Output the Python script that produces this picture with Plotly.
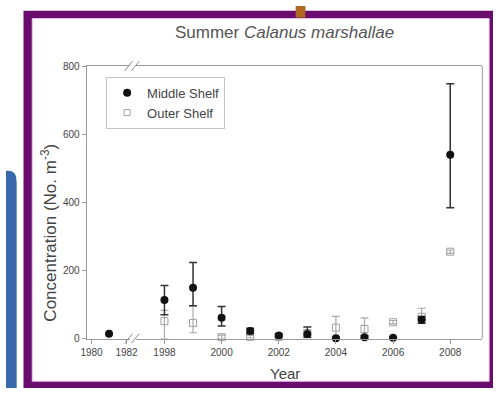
import plotly.graph_objects as go

W, H = 501, 394

# ---------------- data ----------------
early_years = [1981]
early_middle = [14]

years = [1998, 1999, 2000, 2001, 2002, 2003, 2004, 2005, 2006, 2007, 2008]
middle = [113, 149, 61, 22, 9, 13, 1, 4, 2, 55, 540]
middle_plus = [43, 74, 33, 8, 4, 21, 3, 4, 2, 10, 208]
middle_minus = [43, 53, 24, 8, 4, 10, 1, 4, 2, 10, 156]

outer = [51, 46, 4, 5, 5, 16, 32, 28, 48, 64, 255]
outer_plus = [32, 50, 6, 4, 3, 10, 33, 33, 5, 25, 5]
outer_minus = [51, 29, 4, 4, 3, 8, 32, 28, 5, 10, 5]

early_ticks = [1980, 1982]
early_ticklabels = ["1980", "1982"]
late_ticks = [1998, 2000, 2002, 2004, 2006, 2008]
late_ticklabels = ["1998", "2000", "2002", "2004", "2006", "2008"]
y_ticks = [0, 200, 400, 600, 800]
y_ticklabels = ["0", "200", "400", "600", "800"]


def px(x):
    return x / W


def py(y):
    return 1 - y / H


FONT = "Liberation Sans, Arial, sans-serif"
AX = "#9a9a9a"
TXT = "#444444"

fig = go.Figure()

fig.add_trace(go.Scatter(
    x=early_years, y=early_middle, xaxis="x", yaxis="y", mode="markers",
    name="Middle Shelf", legendgroup="m", showlegend=False, cliponaxis=False,
    marker=dict(symbol="circle", size=8, color="#111111"),
))

fig.add_trace(go.Scatter(
    x=years, y=outer, xaxis="x2", yaxis="y", mode="markers",
    name="Outer Shelf", legendgroup="o", showlegend=False, cliponaxis=False,
    marker=dict(symbol="square-open", size=7, color="#a0a0a0", line=dict(width=1)),
    error_y=dict(type="data", symmetric=False, array=outer_plus,
                 arrayminus=outer_minus, color="#aaaaaa", thickness=1.2, width=4),
))

fig.add_trace(go.Scatter(
    x=years, y=middle, xaxis="x2", yaxis="y", mode="markers",
    name="Middle Shelf", legendgroup="m", showlegend=True, cliponaxis=False,
    marker=dict(symbol="circle", size=8, color="#111111"),
    error_y=dict(type="data", symmetric=False, array=middle_plus,
                 arrayminus=middle_minus, color="#333333", thickness=1.5, width=4),
))

# legend entry for outer shelf (ordered after middle)
fig.add_trace(go.Scatter(
    x=[years[0]], y=[-1000], xaxis="x2", yaxis="y", mode="markers",
    name="Outer Shelf", legendgroup="o", showlegend=True,
    marker=dict(symbol="square-open", size=6, color="#a0a0a0", line=dict(width=1)),
))

x1_lo = 1980 - (88 - 83) / 18.0
x1_hi = 1980 + (128 - 88) / 18.0
x2_lo = 1998 - (163 - 134) / 29.4
x2_hi = 1998 + (490 - 163) / 29.4

axis_common = dict(
    showline=True, linecolor=AX, linewidth=1, mirror=True, ticks="outside",
    ticklen=4, tickcolor=AX, showgrid=False, zeroline=False,
    tickfont=dict(family=FONT, size=10, color=TXT),
)

shapes = []
# purple frame
shapes.append(dict(type="rect", xref="paper", yref="paper", layer="below",
                   x0=px(18), x1=px(501), y0=py(394), y1=py(5),
                   fillcolor="#6a0b6e", line=dict(width=0)))
shapes.append(dict(type="rect", xref="paper", yref="paper", layer="below",
                   x0=px(27), x1=px(497), y0=py(387), y1=py(13),
                   fillcolor="#ffffff", line=dict(width=1, color="#ecc6ec")))
# blue tab on the left
shapes.append(dict(type="path", xref="paper", yref="paper", layer="below",
                   path=f"M 0,{py(394)} L 0,{py(170)} L {px(3)},{py(170)} "
                        f"Q {px(11)},{py(170)} {px(11)},{py(182)} L {px(11)},{py(394)} Z",
                   fillcolor="#3869ab", line=dict(width=0)))
# brown bar at top
shapes.append(dict(type="rect", xref="paper", yref="paper", layer="below",
                   x0=px(298), x1=px(308), y0=py(12), y1=py(0),
                   fillcolor="#b0671f", line=dict(width=0)))
# right border of the plot box
shapes.append(dict(type="line", xref="paper", yref="paper",
                   x0=px(490), x1=px(490), y0=py(343), y1=py(62),
                   line=dict(color=AX, width=1)))
# axis break marks (bottom and top)
for yb in (343, 62):
    for dx in (0, 7):
        shapes.append(dict(type="line", xref="paper", yref="paper",
                           x0=px(122 + dx), y0=py(yb + 5),
                           x1=px(130 + dx), y1=py(yb - 5),
                           line=dict(color="#8a8a8a", width=1)))

annotations = [
    dict(text="Summer <i>Calanus marshallae</i>", xref="paper", yref="paper",
         x=px(286), y=py(27), xanchor="center", yanchor="middle", showarrow=False,
         font=dict(family=FONT, size=17, color="#555555")),
    dict(text="Concentration (No. m<sup>-3</sup>)", xref="paper", yref="paper",
         x=px(44), y=py(234), xanchor="center", yanchor="middle",
         showarrow=False, textangle=-90,
         font=dict(family=FONT, size=17, color=TXT)),
    dict(text="Year", xref="paper", yref="paper",
         x=px(287), y=py(379), xanchor="center", yanchor="middle", showarrow=False,
         font=dict(family=FONT, size=15, color=TXT)),
]

fig.update_layout(
    width=W, height=H, autosize=False,
    margin=dict(l=0, r=0, t=0, b=0, pad=0),
    paper_bgcolor="#ffffff", plot_bgcolor="rgba(0,0,0,0)",
    font=dict(family=FONT, color=TXT),
    xaxis=dict(domain=[px(83), px(128)], range=[x1_lo, x1_hi], anchor="y",
               tickvals=early_ticks, ticktext=early_ticklabels, **axis_common),
    xaxis2=dict(domain=[px(134), px(490)], range=[x2_lo, x2_hi], anchor="y",
                tickvals=late_ticks, ticktext=late_ticklabels, **axis_common),
    yaxis=dict(domain=[py(343), py(62)], range=[0, 800], anchor="x",
               tickvals=y_ticks, ticktext=y_ticklabels,
               **{k: v for k, v in axis_common.items() if k != "mirror"}),
    legend=dict(x=px(103), y=py(73), xanchor="left", yanchor="top",
                bgcolor="#ffffff", bordercolor="#c4c4c4", borderwidth=1,
                font=dict(family=FONT, size=13, color=TXT),
                traceorder="normal", itemwidth=30, tracegroupgap=0),
    shapes=shapes,
    annotations=annotations,
    showlegend=True,
)

fig.write_html("out.html")
